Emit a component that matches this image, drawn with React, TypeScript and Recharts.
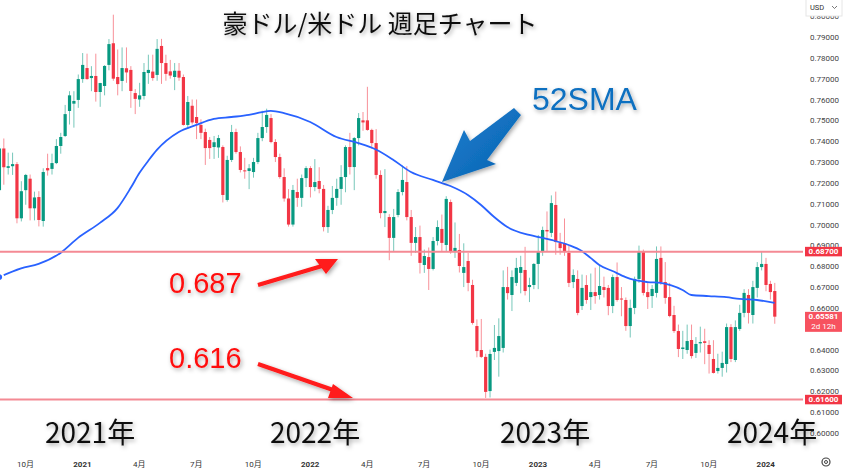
import React from 'react';
import { ComposedChart, Bar, Line, XAxis, YAxis, ReferenceLine } from 'recharts';

// weekly AUD/USD candles [open, high, low, close]
const CANDLES_2020 = [
  [0.7165, 0.737, 0.7155, 0.7365], [0.7365, 0.7413, 0.7191, 0.7275], [0.7272, 0.7345, 0.724, 0.728],
  [0.728, 0.7345, 0.7238, 0.729], [0.729, 0.73, 0.7006, 0.703], [0.703, 0.7208, 0.7015, 0.716],
  [0.7165, 0.7243, 0.7095, 0.7238], [0.722, 0.724, 0.702, 0.7078], [0.7078, 0.7158, 0.702, 0.713],
  [0.7132, 0.716, 0.6991, 0.7022], [0.7017, 0.727, 0.699, 0.7252], [0.7271, 0.734, 0.7235, 0.726],
  [0.7267, 0.734, 0.724, 0.7295], [0.7295, 0.741, 0.729, 0.7377], [0.7377, 0.744, 0.734, 0.742],
  [0.7425, 0.7574, 0.742, 0.753], [0.7545, 0.764, 0.748, 0.762], [0.758, 0.764, 0.7465, 0.7593],
  [0.7598, 0.772, 0.756, 0.7698],
];
const CANDLES_2021 = [
  [0.7698, 0.7823, 0.768, 0.7766], [0.7751, 0.782, 0.7695, 0.7698], [0.7703, 0.776, 0.764, 0.7713],
  [0.7713, 0.782, 0.759, 0.7636], [0.7636, 0.768, 0.7565, 0.7679], [0.7665, 0.7765, 0.762, 0.7761],
  [0.7766, 0.789, 0.774, 0.7866], [0.787, 0.8007, 0.769, 0.77], [0.7708, 0.784, 0.762, 0.7674],
  [0.7689, 0.785, 0.764, 0.7751], [0.775, 0.785, 0.768, 0.773], [0.7742, 0.776, 0.756, 0.7641],
  [0.7631, 0.765, 0.753, 0.7603], [0.76, 0.768, 0.7565, 0.762], [0.7617, 0.7775, 0.76, 0.7732],
  [0.7727, 0.7815, 0.7675, 0.7742], [0.7734, 0.7815, 0.769, 0.7703], [0.7718, 0.789, 0.769, 0.7843],
  [0.7857, 0.7891, 0.7675, 0.7775], [0.7775, 0.7815, 0.769, 0.7723], [0.7735, 0.779, 0.77, 0.7715],
  [0.7708, 0.7775, 0.7645, 0.7738], [0.7738, 0.7775, 0.769, 0.7705], [0.7708, 0.772, 0.7475, 0.7478],
  [0.7478, 0.7617, 0.746, 0.7588], [0.757, 0.76, 0.748, 0.749], [0.7516, 0.76, 0.741, 0.7487],
  [0.7478, 0.7505, 0.741, 0.744], [0.7444, 0.746, 0.7286, 0.7367], [0.7406, 0.742, 0.7315, 0.7367],
  [0.7372, 0.7425, 0.7315, 0.7395], [0.737, 0.743, 0.732, 0.7415], [0.7372, 0.738, 0.7106, 0.7142],
  [0.7118, 0.733, 0.711, 0.731], [0.731, 0.7478, 0.73, 0.7444], [0.7444, 0.746, 0.734, 0.7348],
  [0.7348, 0.7375, 0.725, 0.7262], [0.726, 0.732, 0.722, 0.7257], [0.7257, 0.729, 0.717, 0.727],
  [0.7252, 0.732, 0.7225, 0.73], [0.73, 0.744, 0.729, 0.7415], [0.7415, 0.7546, 0.74, 0.7468],
  [0.7468, 0.7556, 0.744, 0.7526], [0.7511, 0.753, 0.739, 0.7396], [0.7396, 0.741, 0.73, 0.7324],
  [0.7324, 0.734, 0.722, 0.7228], [0.7228, 0.727, 0.711, 0.7125], [0.7125, 0.717, 0.699, 0.7],
  [0.7, 0.719, 0.699, 0.7166], [0.7156, 0.722, 0.7085, 0.7128], [0.7128, 0.724, 0.7085, 0.7223],
  [0.7223, 0.728, 0.718, 0.7271],
];
const CANDLES_2022 = [
  [0.7271, 0.728, 0.713, 0.718], [0.718, 0.7314, 0.716, 0.7204], [0.7209, 0.7275, 0.715, 0.7171],
  [0.7171, 0.719, 0.6967, 0.6988], [0.6988, 0.709, 0.696, 0.707], [0.707, 0.7185, 0.705, 0.7128],
  [0.7128, 0.722, 0.709, 0.7171], [0.7171, 0.7285, 0.7095, 0.7228], [0.7228, 0.738, 0.7155, 0.7372],
  [0.7372, 0.744, 0.724, 0.7276], [0.7276, 0.742, 0.7165, 0.7415], [0.7415, 0.7535, 0.738, 0.7511],
  [0.75, 0.754, 0.745, 0.749], [0.75, 0.7661, 0.745, 0.7454], [0.7454, 0.746, 0.7365, 0.7391],
  [0.7391, 0.7458, 0.722, 0.7238], [0.7238, 0.726, 0.703, 0.7055], [0.7055, 0.7266, 0.6988, 0.7065],
  [0.7036, 0.705, 0.6829, 0.6936], [0.6936, 0.7075, 0.687, 0.7036], [0.7046, 0.717, 0.7035, 0.7156],
  [0.7156, 0.7283, 0.714, 0.7214], [0.7204, 0.728, 0.702, 0.7036], [0.7036, 0.707, 0.685, 0.6912],
  [0.6912, 0.6988, 0.6864, 0.694], [0.694, 0.6995, 0.6765, 0.6816], [0.6806, 0.688, 0.6768, 0.6849],
  [0.6844, 0.689, 0.6686, 0.6787], [0.6787, 0.694, 0.678, 0.6921], [0.6921, 0.702, 0.69, 0.6988],
  [0.6979, 0.7048, 0.687, 0.6912], [0.6902, 0.7136, 0.687, 0.7123], [0.7108, 0.712, 0.686, 0.6868],
  [0.6868, 0.701, 0.684, 0.6888], [0.6878, 0.6955, 0.677, 0.6801], [0.6768, 0.691, 0.67, 0.6796],
  [0.6825, 0.6864, 0.668, 0.672], [0.671, 0.6735, 0.652, 0.6528], [0.6513, 0.6545, 0.6363, 0.6393],
  [0.6398, 0.6547, 0.636, 0.6365], [0.6365, 0.638, 0.6168, 0.6197], [0.6201, 0.64, 0.617, 0.6379],
  [0.6389, 0.6518, 0.635, 0.6408], [0.6393, 0.655, 0.627, 0.6465], [0.6408, 0.678, 0.6386, 0.67],
  [0.67, 0.6797, 0.664, 0.6671], [0.6662, 0.678, 0.6585, 0.6748], [0.672, 0.684, 0.6705, 0.6792],
  [0.6768, 0.685, 0.667, 0.6796], [0.6782, 0.6893, 0.666, 0.6681], [0.67, 0.6745, 0.6628, 0.671],
  [0.671, 0.6815, 0.669, 0.6811],
];
const CANDLES_2023 = [
  [0.6811, 0.695, 0.669, 0.6868], [0.6868, 0.699, 0.685, 0.6974], [0.6974, 0.7063, 0.687, 0.6967],
  [0.696, 0.714, 0.694, 0.7103], [0.7094, 0.7158, 0.6855, 0.6916], [0.6911, 0.696, 0.6855, 0.6887],
  [0.6911, 0.7029, 0.685, 0.6873], [0.6864, 0.69, 0.67, 0.672], [0.6724, 0.6785, 0.6695, 0.6758],
  [0.6739, 0.678, 0.6565, 0.6576], [0.6609, 0.676, 0.659, 0.6696], [0.671, 0.6757, 0.662, 0.6638],
  [0.6652, 0.6765, 0.659, 0.6676], [0.6676, 0.6793, 0.662, 0.6657], [0.6662, 0.6805, 0.664, 0.6705],
  [0.67, 0.675, 0.665, 0.6686], [0.6696, 0.671, 0.6565, 0.6609], [0.6609, 0.676, 0.6575, 0.6748],
  [0.6748, 0.6818, 0.663, 0.6638], [0.6645, 0.67, 0.656, 0.6643], [0.6638, 0.665, 0.649, 0.6513],
  [0.6513, 0.664, 0.6458, 0.66], [0.66, 0.675, 0.657, 0.6739], [0.6739, 0.6899, 0.672, 0.6868],
  [0.6868, 0.688, 0.666, 0.6672], [0.6676, 0.672, 0.6595, 0.6652], [0.6657, 0.671, 0.66, 0.6691],
  [0.6672, 0.6895, 0.665, 0.6835], [0.684, 0.6895, 0.671, 0.6724], [0.6724, 0.682, 0.662, 0.6648],
  [0.6652, 0.672, 0.6555, 0.6561], [0.6566, 0.661, 0.648, 0.6489], [0.6489, 0.652, 0.6364, 0.6403],
  [0.6403, 0.649, 0.6355, 0.641], [0.6398, 0.652, 0.638, 0.6441], [0.6446, 0.652, 0.6357, 0.6369],
  [0.6384, 0.646, 0.636, 0.6427], [0.643, 0.651, 0.6386, 0.6436], [0.644, 0.65, 0.633, 0.6432],
  [0.6422, 0.6445, 0.6285, 0.6379], [0.6355, 0.6445, 0.6285, 0.6288], [0.6297, 0.638, 0.6285, 0.6312],
  [0.6312, 0.639, 0.627, 0.6336], [0.6331, 0.6525, 0.629, 0.6508], [0.6508, 0.6522, 0.634, 0.6355],
  [0.635, 0.654, 0.634, 0.6508], [0.6499, 0.6615, 0.649, 0.6576], [0.6576, 0.669, 0.6555, 0.6672],
  [0.6662, 0.669, 0.6525, 0.6576], [0.6566, 0.673, 0.6525, 0.67], [0.6696, 0.682, 0.665, 0.6796],
  [0.6796, 0.6871, 0.678, 0.6811],
];
const CANDLES_2024 = [
  [0.6811, 0.684, 0.668, 0.671], [0.6715, 0.673, 0.664, 0.6676], [0.6681, 0.672, 0.6524, 0.6558],
];

// 52-week SMA at selected weeks (week index -> value)
const SMA_WEEKS = [
  0, 5, 9, 14, 18, 23, 27, 30, 32, 34, 36, 41, 45, 49, 53, 57, 60, 62, 65, 71, 77, 82, 86, 90, 94,
  99, 103, 107, 110, 113, 116, 121, 124, 126, 130, 133, 135, 137, 140, 143, 145, 148, 151, 156,
  158, 162, 166, 169, 173, 177,
];
const SMA_VALUES = [
  0.6748, 0.679, 0.6811, 0.6864, 0.6936, 0.7008, 0.7079, 0.7175, 0.7247, 0.7305, 0.7358, 0.7444,
  0.7478, 0.7507, 0.7516, 0.7526, 0.754, 0.7545, 0.7535, 0.7492, 0.742, 0.7391, 0.736, 0.731,
  0.7252, 0.7214, 0.7185, 0.7142, 0.7094, 0.7036, 0.6988, 0.695, 0.6936, 0.6926, 0.6902, 0.6873,
  0.684, 0.6806, 0.6777, 0.6748, 0.6734, 0.6724, 0.672, 0.6686, 0.6662, 0.6657, 0.6652, 0.6643,
  0.6638, 0.6624,
];

const LEVELS = [0.687, 0.616];
const LAST_PRICE = 0.65581;
const LAST_COUNTDOWN = '2d 12h';
// 0.65 sits fully under the last-price tag, so it is left out
const Y_TICKS = [
  0.6, 0.61, 0.62, 0.63, 0.64, 0.66, 0.67, 0.68, 0.69, 0.7, 0.71, 0.72, 0.73, 0.74, 0.75,
  0.76, 0.77, 0.78, 0.79, 0.8,
];
const X_TICKS = [
  '2020-10-05', '2021-01-04', '2021-04-05', '2021-07-05', '2021-10-04', '2022-01-03', '2022-04-04',
  '2022-07-04', '2022-10-03', '2023-01-02', '2023-04-03', '2023-07-03', '2023-10-02', '2024-01-01',
];
const X_TICK_LABELS = ['10月', '2021', '4月', '7月', '10月', '2022', '4月', '7月', '10月', '2023', '4月', '7月', '10月', '2024'];
const YEAR_NOTES = ['2021年', '2022年', '2023年', '2024年'];

const UP = '#089981';
const DOWN = '#f23645';
const TOTAL_WEEKS = 184;

const candles = [...CANDLES_2020, ...CANDLES_2021, ...CANDLES_2022, ...CANDLES_2023, ...CANDLES_2024];
const smaByWeek = new Map(SMA_WEEKS.map((w, i) => [w, SMA_VALUES[i]]));

const rows = Array.from({ length: TOTAL_WEEKS }, (_, i) => {
  const d = new Date(Date.UTC(2020, 7, 24) + i * 7 * 86400000).toISOString().slice(0, 10);
  const k = candles[i];
  return {
    d,
    o: k ? k[0] : null,
    h: k ? k[1] : null,
    l: k ? k[2] : null,
    c: k ? k[3] : null,
    hl: k ? [k[2], k[1]] : null,
    sma: smaByWeek.has(i) ? smaByWeek.get(i) : null,
  };
});

// price tags go last so they are painted over the plain tick labels
const axisTicks = [...Y_TICKS, ...LEVELS, LAST_PRICE];

const Candle = (props: any) => {
  const { x, y, width, height, payload } = props;
  if (!payload || payload.o == null || !height) return null;
  const { o, h, l, c } = payload;
  const color = c >= o ? UP : DOWN;
  const k = height / (h - l);
  const top = y + (h - Math.max(o, c)) * k;
  const bot = y + (h - Math.min(o, c)) * k;
  const cx = x + width / 2;
  return (
    <g>
      <line x1={cx} x2={cx} y1={y} y2={y + height} stroke={color} strokeOpacity={0.55} strokeWidth={1} />
      <rect x={cx - 1.6} y={top} width={3.2} height={Math.max(bot - top, 1)} fill={color} />
    </g>
  );
};

const XTick = ({ x, y, payload }: any) => {
  const i = X_TICKS.indexOf(payload.value);
  const label = X_TICK_LABELS[i] ?? '';
  const isYear = /^\d{4}$/.test(label);
  return (
    <text x={x} y={y + 20} textAnchor="middle" fontSize={8} fontWeight={isYear ? 700 : 400} fill="#333" fontFamily="Roboto, 'Noto Sans CJK JP', sans-serif">
      {label}
    </text>
  );
};

const YTick = ({ x, y, payload }: any) => {
  const v = payload.value;
  const isLevel = LEVELS.includes(v);
  const isLast = v === LAST_PRICE;
  if (isLevel || isLast) {
    const bx = x - 5;
    return (
      <g>
        <rect x={bx} y={y - 4.8} width={37} height={isLast ? 20 : 9.5} fill={isLast ? '#f7525f' : DOWN} />
        <text x={bx + 18.5} y={y + 2.8} textAnchor="middle" fontSize={8} fontWeight={700} fill="#fff" fontFamily="Roboto, sans-serif">
          {v.toFixed(5)}
        </text>
        {isLast && (
          <text x={bx + 18.5} y={y + 12.6} textAnchor="middle" fontSize={8} fill="#fff" fontFamily="Roboto, sans-serif">
            {LAST_COUNTDOWN}
          </text>
        )}
      </g>
    );
  }
  return (
    <text x={x} y={y + 3} textAnchor="start" fontSize={8} fill="#444" fontFamily="Roboto, sans-serif">
      {v.toFixed(5)}
    </text>
  );
};

const Overlay = () => (
  <svg width={844} height={468} style={{ position: 'absolute', left: 0, top: 0, pointerEvents: 'none' }}>
    <defs>
      <filter id="sh" x="-20%" y="-30%" width="140%" height="170%">
        <feDropShadow dx="1.5" dy="2" stdDeviation="2" floodColor="#000" floodOpacity="0.35" />
      </filter>
      <linearGradient id="blueArrow" x1="0" y1="0" x2="1" y2="1">
        <stop offset="0%" stopColor="#1a7fd0" />
        <stop offset="100%" stopColor="#0a62b0" />
      </linearGradient>
    </defs>
    <text x={380} y={33} textAnchor="middle" fontSize={25} fill="#111" fontFamily="'Noto Sans CJK JP', sans-serif" filter="url(#sh)">
      豪ドル/米ドル 週足チャート
    </text>
    <text x={532} y={110} fontSize={32} fill="#1170c0" fontFamily="'Liberation Sans', Arial, sans-serif" filter="url(#sh)">
      52SMA
    </text>
    <polygon points="442,182 464,130 470,141 514,108 521,115 487,160 496,164" fill="url(#blueArrow)" filter="url(#sh)" />
    <text x={169} y={293} fontSize={29} fill="#ff1010" fontFamily="'Liberation Sans', Arial, sans-serif" filter="url(#sh)">
      0.687
    </text>
    <text x={169} y={368} fontSize={29} fill="#ff1010" fontFamily="'Liberation Sans', Arial, sans-serif" filter="url(#sh)">
      0.616
    </text>
    <g filter="url(#sh)" fill="#ff1a1a">
      <line x1={258} y1={285} x2={322} y2={266} stroke="#ff1a1a" strokeWidth={4} />
      <polygon points="338,259 315,259 326,274" />
      <line x1={258} y1={364} x2={336} y2={391} stroke="#ff1a1a" strokeWidth={4} />
      <polygon points="353,398 333,384 328,398" />
    </g>
    {YEAR_NOTES.map((t, i) => (
      <text key={t} x={[45, 270, 500, 727][i]} y={443} fontSize={28} fill="#111" fontFamily="'Noto Sans CJK JP', sans-serif" filter="url(#sh)">
        {t}
      </text>
    ))}
    <g>
      <rect x={806} y={-1} width={36} height={17} fill="#fff" stroke="#e6e6e6" />
      <text x={810} y={10} fontSize={7.5} fill="#333" fontFamily="Roboto, sans-serif">USD</text>
      <path d="M832,6 l2.5,2.5 l2.5,-2.5" fill="none" stroke="#555" strokeWidth={0.8} />
    </g>
    <circle cx={826} cy={462} r={4} fill="none" stroke="#444" strokeWidth={1.2} />
    <circle cx={826} cy={462} r={1.5} fill="none" stroke="#444" strokeWidth={1} />
  </svg>
);

export default function App() {
  return (
    <div style={{ position: 'relative', width: 844, height: 468, background: '#fff' }}>
      <style>{'body{margin:0}'}</style>
      <ComposedChart width={844} height={468} data={rows} margin={{ top: 0, right: 0, left: -3, bottom: 0 }}>
        <XAxis
          dataKey="d"
          ticks={X_TICKS}
          interval={0}
          tick={<XTick />}
          tickLine={false}
          axisLine={false}
          tickSize={0}
          height={23}
        />
        <YAxis
          orientation="right"
          domain={[0.59422, 0.80775]}
          allowDataOverflow
          ticks={axisTicks}
          interval={0}
          tick={<YTick />}
          tickLine={false}
          axisLine={false}
          tickSize={0}
          tickMargin={7}
          width={41}
        />
        <Bar dataKey={(r: any) => r.hl} shape={<Candle />} isAnimationActive={false} />
        <Line
          dataKey="sma"
          type="monotone"
          stroke="#2962ff"
          strokeWidth={1.8}
          dot={false}
          connectNulls
          isAnimationActive={false}
        />
        {LEVELS.map((v) => (
          <ReferenceLine key={v} y={v} stroke="#f48a94" strokeWidth={2} />
        ))}
      </ComposedChart>
      <Overlay />
    </div>
  );
}
